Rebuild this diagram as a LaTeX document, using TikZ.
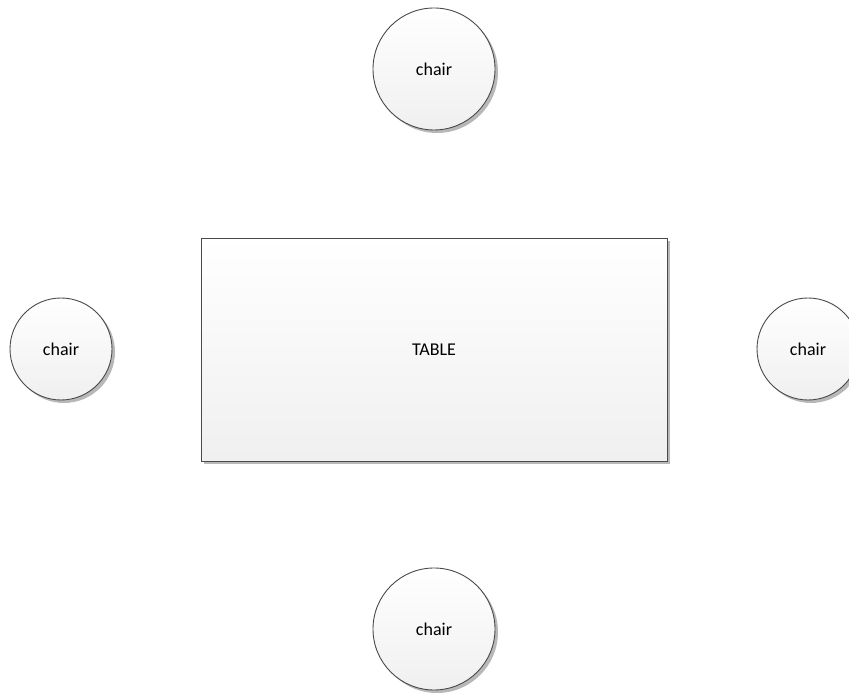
\documentclass[tikz,border=0pt]{standalone}
\usepackage{fontspec}
\setmainfont{Carlito}
\usetikzlibrary{shadows}
\definecolor{edgecol}{HTML}{4A4A4A}
\definecolor{shadecol}{HTML}{B8B8B8}
\tikzset{
  x=1pt,y=1pt,
  obj/.style={draw=edgecol, line width=0.9pt, top color=white, bottom color=black!6,
    font=\fontsize{18}{20}\selectfont, text=black,
    drop shadow={shadow xshift=3pt, shadow yshift=-3pt, fill=shadecol, opacity=1}},
  bigchair/.style={obj, circle, minimum size=122pt, inner sep=0pt},
  smallchair/.style={obj, circle, minimum size=102pt, inner sep=0pt},
  tablebox/.style={obj, rectangle, minimum width=466pt, minimum height=223pt, inner sep=0pt}
}
\begin{document}
\begin{tikzpicture}
\useasboundingbox (0,0) rectangle (849,693);
\node[bigchair] (top) at (434,624) {chair};
\node[bigchair] (bottom) at (434,64) {chair};
\node[smallchair] (left) at (61,344) {chair};
\node[smallchair] (right) at (808,344) {chair};
\node[tablebox] (table) at (434,343.5) {TABLE};
\end{tikzpicture}
\end{document}
